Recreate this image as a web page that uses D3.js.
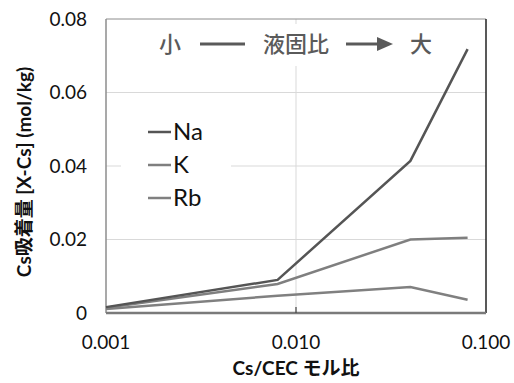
<!DOCTYPE html>
<html>
<head>
<meta charset="utf-8">
<script src="https://cdn.jsdelivr.net/npm/d3@7"></script>
<style>
  body { margin: 0; background: #fff; }
  text { font-family: Lato, "Noto Sans CJK JP", sans-serif; }
</style>
</head>
<body>
<div id="chartContainer"></div>
<script>
// data
var ratios = [0.001, 0.008, 0.04, 0.08];
var naValues = [0.0016, 0.0090, 0.0414, 0.0718];
var kValues = [0.0014, 0.0079, 0.0200, 0.0205];
var rbValues = [0.0011, 0.0047, 0.0071, 0.0036];
var seriesNames = ["Na", "K", "Rb"];
var seriesColors = ["#555555", "#7f7f7f", "#808080"];
var xTicks = [0.001, 0.01, 0.1];
var yTicks = [0, 0.02, 0.04, 0.06, 0.08];

function init() {
    var w = 514;
    var h = 383;
    var left = 106, right = 486, top = 19, bottom = 313;

    var xScale = d3.scaleLog().domain([0.001, 0.1]).range([left, right]);
    var yScale = d3.scaleLinear().domain([0, 0.08]).range([bottom, top]);

    var svg = d3.select("#chartContainer")
        .append("svg")
        .attr("width", w)
        .attr("height", h);

    // grid lines
    svg.selectAll(".hgrid")
        .data([0.02, 0.04, 0.06])
        .enter().append("line")
        .attr("x1", left).attr("x2", right)
        .attr("y1", function (d) { return yScale(d); })
        .attr("y2", function (d) { return yScale(d); })
        .attr("stroke", "#d9d9d9").attr("stroke-width", 1);
    svg.append("line")
        .attr("x1", xScale(0.01)).attr("x2", xScale(0.01))
        .attr("y1", top).attr("y2", bottom)
        .attr("stroke", "#d9d9d9").attr("stroke-width", 1);

    // white boxes behind the annotation and legend (they hide the grid)
    svg.append("rect").attr("x", 150).attr("y", 24).attr("width", 295).attr("height", 42).attr("fill", "#fff");
    svg.append("rect").attr("x", 121).attr("y", 115).attr("width", 110).attr("height", 100).attr("fill", "#fff");

    // frame
    svg.append("line").attr("x1", left).attr("x2", right).attr("y1", top).attr("y2", top)
        .attr("stroke", "#8c8c8c").attr("stroke-width", 1);
    svg.append("line").attr("x1", left).attr("x2", left).attr("y1", top).attr("y2", bottom)
        .attr("stroke", "#8c8c8c").attr("stroke-width", 1.5);
    svg.append("line").attr("x1", right).attr("x2", right).attr("y1", top).attr("y2", bottom)
        .attr("stroke", "#222").attr("stroke-width", 1.5);

    // lines
    var allValues = [naValues, kValues, rbValues];
    var line = d3.line()
        .x(function (d, i) { return xScale(ratios[i]); })
        .y(function (d) { return yScale(d); });

    // draw Rb first, Na on top
    [2, 1, 0].forEach(function (k) {
        svg.append("path")
            .datum(allValues[k])
            .attr("fill", "none")
            .attr("stroke", seriesColors[k])
            .attr("stroke-width", 2.5)
            .attr("d", line);
    });

    // bottom axis line and inner tick
    svg.append("line").attr("x1", left).attr("x2", right).attr("y1", bottom).attr("y2", bottom)
        .attr("stroke", "#7a7a7a").attr("stroke-width", 2.5);
    svg.append("line").attr("x1", xScale(0.01)).attr("x2", xScale(0.01))
        .attr("y1", bottom).attr("y2", bottom - 6)
        .attr("stroke", "#444").attr("stroke-width", 1.2);

    // tick labels
    svg.selectAll(".ylab")
        .data(yTicks)
        .enter().append("text")
        .attr("x", 87)
        .attr("y", function (d) { return yScale(d); })
        .attr("dy", "0.35em")
        .attr("text-anchor", "end")
        .attr("font-size", "19px")
        .attr("fill", "#111")
        .text(function (d) { return d === 0 ? "0" : d3.format(".2f")(d); });

    svg.selectAll(".xlab")
        .data(xTicks)
        .enter().append("text")
        .attr("x", function (d) { return xScale(d); })
        .attr("y", 342)
        .attr("dy", "0.35em")
        .attr("text-anchor", "middle")
        .attr("font-size", "19px")
        .attr("fill", "#111")
        .text(function (d) { return d3.format(".3f")(d); });

    // axis titles
    svg.append("text")
        .attr("x", 296).attr("y", 368)
        .attr("dy", "0.35em")
        .attr("text-anchor", "middle")
        .attr("font-size", "19px")
        .attr("font-weight", "bold")
        .attr("fill", "#111")
        .text("Cs/CEC モル比");

    svg.append("text")
        .attr("transform", "translate(24,172) rotate(-90)")
        .attr("dy", "0.35em")
        .attr("text-anchor", "middle")
        .attr("font-size", "19px")
        .attr("font-weight", "bold")
        .attr("fill", "#111")
        .text("Cs吸着量 [X-Cs] (mol/kg)");

    // annotation: 小 —— 液固比 → 大
    var ann = svg.append("g").attr("fill", "#5a5a5a")
        .attr("font-family", "'Noto Sans CJK JP', sans-serif")
        .attr("font-size", "22px").attr("font-weight", "500");
    ann.append("text").attr("x", 170).attr("y", 44).attr("dy", "0.35em")
        .attr("text-anchor", "middle").text("小");
    ann.append("text").attr("x", 296).attr("y", 44).attr("dy", "0.35em")
        .attr("text-anchor", "middle").text("液固比");
    ann.append("text").attr("x", 421).attr("y", 44).attr("dy", "0.35em")
        .attr("text-anchor", "middle").text("大");
    svg.append("line").attr("x1", 200).attr("x2", 245).attr("y1", 44).attr("y2", 44)
        .attr("stroke", "#5a5a5a").attr("stroke-width", 3);
    svg.append("line").attr("x1", 346).attr("x2", 378).attr("y1", 44).attr("y2", 44)
        .attr("stroke", "#5a5a5a").attr("stroke-width", 3);
    svg.append("path").attr("d", "M377,37 L393,44 L377,51 Z").attr("fill", "#5a5a5a");

    // legend
    var legend = svg.selectAll(".legend")
        .data(seriesNames)
        .enter().append("g")
        .attr("transform", function (d, i) { return "translate(148," + (132 + i * 33) + ")"; });
    legend.append("line")
        .attr("x1", 0).attr("x2", 23)
        .attr("stroke", function (d, i) { return seriesColors[i]; })
        .attr("stroke-width", 2.5);
    legend.append("text")
        .attr("x", 25)
        .attr("dy", "0.35em")
        .attr("font-size", "24px")
        .attr("fill", "#111")
        .text(function (d) { return d; });
}

window.onload = init;
</script>
</body>
</html>
